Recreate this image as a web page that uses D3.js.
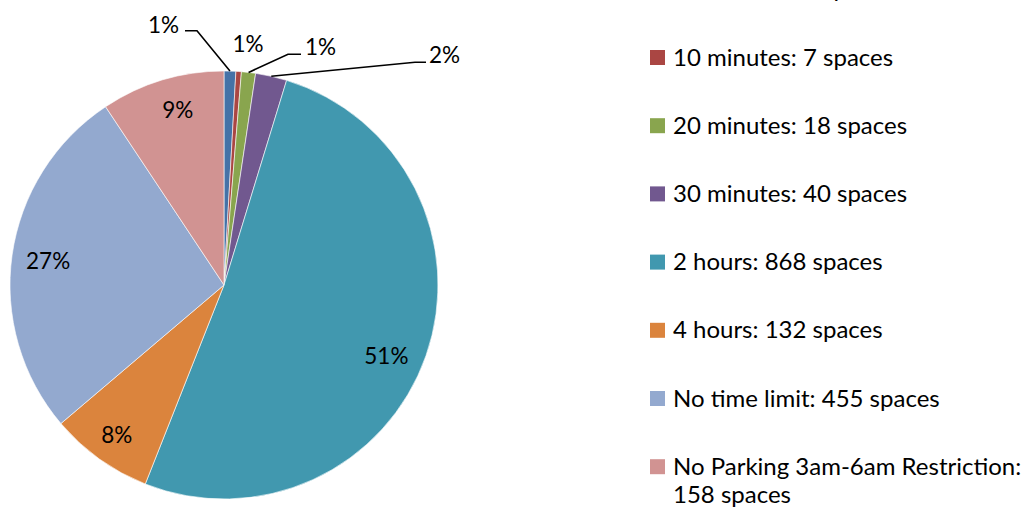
<!DOCTYPE html>
<html>
<head>
<meta charset="utf-8">
<script src="https://cdn.jsdelivr.net/npm/d3@7"></script>
<style>
  html, body { margin: 0; padding: 0; background: #fff; }
  svg { display: block; }
  text { font-family: Lato, "Open Sans", sans-serif; fill: #000; }
</style>
</head>
<body>
<svg id="chart" width="1031" height="508"></svg>
<script>
// ---- data ----
const categories = [
  "5 minutes", "10 minutes", "20 minutes", "30 minutes",
  "2 hours", "4 hours", "No time limit", "No Parking 3am-6am Restriction"
];
const spaces = [15, 7, 18, 40, 868, 132, 455, 158];
const pctLabels = ["1%", "1%", "1%", "2%", "51%", "8%", "27%", "9%"];
const colors = ["#4572A7", "#AA4643", "#89A54E", "#71588F",
                "#4198AF", "#DB843D", "#93A9CF", "#D19392"];

// ---- layout ----
const W = 1031, H = 508;
const cx = 224, cy = 285, R = 214;
const labelFont = 22.5, legendFont = 24;
// label placement (outside labels: text position + leader elbow; inside: radius factor + angle nudge)
const labelLayout = [
  { type: "leader", tx: 179, ty: 32.5, anchor: "end",   hx0: 185, hx1: 197, hy: 30.7 },
  { type: "free",   tx: 248, ty: 51.5, anchor: "middle" },
  { type: "leader", tx: 305, ty: 55,   anchor: "start", hx0: 288, hx1: 301, hy: 54.3 },
  { type: "leader", tx: 429, ty: 63,   anchor: "start", hx0: 415, hx1: 426, hy: 62.3 },
  { type: "inside", r: 0.828, nudge: 4.3 },
  { type: "inside", r: 0.86,  nudge: 0 },
  { type: "inside", r: 0.83,  nudge: 0 },
  { type: "inside", r: 0.846, nudge: 2 }
];

const svg = d3.select("#chart");
const g = svg.append("g").attr("transform", `translate(${cx},${cy})`);

const pie = d3.pie().value(d => d).sort(null).startAngle(0).endAngle(2 * Math.PI);
const arcs = pie(spaces);
const arc = d3.arc().innerRadius(0).outerRadius(R);

g.selectAll("path.slice")
  .data(arcs)
  .join("path")
  .attr("class", "slice")
  .attr("d", arc)
  .attr("fill", (d, i) => colors[i])
  .attr("stroke", "#fff")
  .attr("stroke-width", 0.6);

function polar(angle, r) {
  return [r * Math.sin(angle), -r * Math.cos(angle)];
}

// labels
arcs.forEach((d, i) => {
  const L = labelLayout[i];
  const mid = (d.startAngle + d.endAngle) / 2;
  if (L.type === "inside") {
    const [x, y] = polar(mid + L.nudge * Math.PI / 180, R * L.r);
    g.append("text")
      .attr("x", x).attr("y", y)
      .attr("text-anchor", "middle")
      .attr("dominant-baseline", "central")
      .attr("font-size", labelFont)
      .text(pctLabels[i]);
  } else {
    if (L.type === "leader") {
      const [ax, ay] = polar(mid, R);
      const elbowX = L.anchor === "end" ? L.hx1 : L.hx0;
      const endX = L.anchor === "end" ? L.hx0 : L.hx1;
      const pts = [[ax + cx, ay + cy], [elbowX, L.hy], [endX, L.hy]];
      svg.append("path")
        .attr("d", d3.line()(pts))
        .attr("fill", "none")
        .attr("stroke", "#000")
        .attr("stroke-width", 1.6);
    }
    svg.append("text")
      .attr("x", L.tx).attr("y", L.ty)
      .attr("text-anchor", L.anchor)
      .attr("font-size", labelFont)
      .text(pctLabels[i]);
  }
});

// legend
const legendX = 650, legendTextX = 673, sq = 15;
const legendY0 = -10.7, legendStep = 68.2;
const legend = svg.append("g");
categories.forEach((c, i) => {
  const yc = legendY0 + i * legendStep;
  legend.append("rect")
    .attr("x", legendX).attr("y", yc - sq / 2)
    .attr("width", sq).attr("height", sq)
    .attr("fill", colors[i]);
  const t = legend.append("text")
    .attr("x", legendTextX).attr("y", yc + 8)
    .attr("font-size", legendFont);
  if (i === categories.length - 1) {
    t.append("tspan").attr("x", legendTextX).text(`${c}:`);
    t.append("tspan").attr("x", legendTextX).attr("dy", 28).text(`${spaces[i]} spaces`);
  } else {
    t.text(`${c}: ${spaces[i]} spaces`);
  }
});
</script>
</body>
</html>
